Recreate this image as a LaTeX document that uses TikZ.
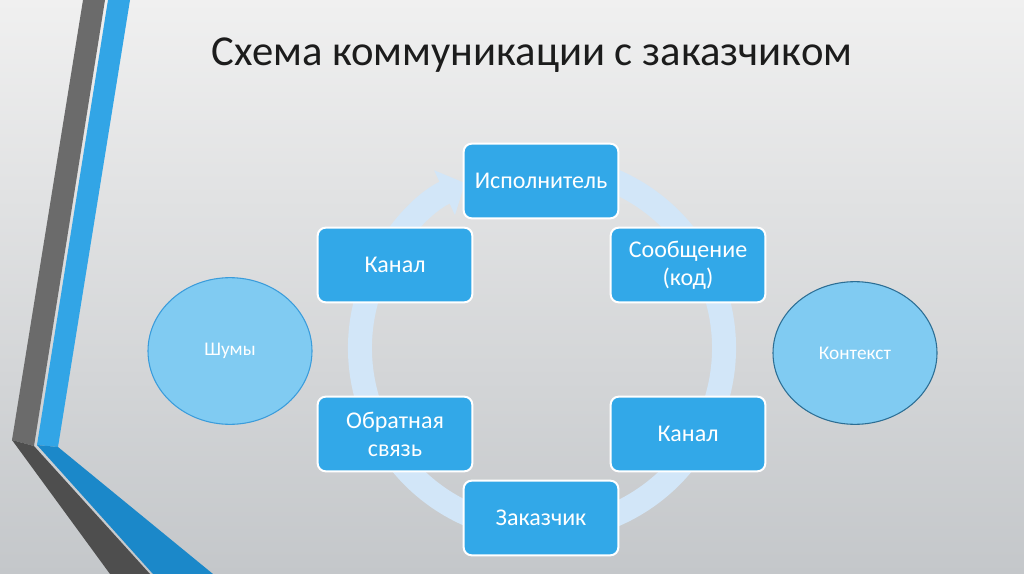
\documentclass[tikz,border=0pt]{standalone}
\usepackage{fontspec}
\setmainfont{Carlito}
\usetikzlibrary{arrows.meta,shapes.geometric}
\definecolor{boxblue}{RGB}{50,168,232}
\definecolor{ellfill}{RGB}{128,203,242}
\definecolor{shumline}{RGB}{58,156,219}
\definecolor{kontline}{RGB}{44,110,148}
\definecolor{ringcol}{RGB}{210,230,248}
\definecolor{bgtop}{RGB}{240,240,240}
\definecolor{bgbot}{RGB}{196,199,202}
\definecolor{greyup}{RGB}{107,107,107}
\definecolor{greylow}{RGB}{78,78,78}
\definecolor{blueup}{RGB}{50,165,230}
\definecolor{bluelow}{RGB}{27,136,201}
\definecolor{titlecol}{RGB}{28,28,28}
\begin{document}
\begin{tikzpicture}[x=0.75pt,y=-0.75pt,
  box/.style={rectangle, rounded corners=6pt, fill=boxblue, draw=white, line width=1.5pt,
    minimum width=116pt, minimum height=56pt, inner sep=0pt, align=center,
    text=white, font=\fontsize{18}{21}\selectfont},
  ell/.style={ellipse, fill=ellfill, line width=0.8pt, inner sep=0pt,
    text=white, font=\fontsize{14.5}{16}\selectfont},
  ring/.style={draw=ringcol, line width=18pt, -{Triangle[length=17pt,width=36pt]}},
  titlestyle/.style={text=titlecol, font=\fontsize{32}{38}\selectfont, inner sep=0pt}]
\useasboundingbox (0,0) rectangle (1024,574);
\shade[top color=bgtop, bottom color=bgbot] (0,0) rectangle (1024,574);
% left decoration
\fill[greyup] (83,0) -- (105,0) -- (34,446) -- (12,440) -- cycle;
\fill[greylow] (12,440) -- (34,446) -- (150,574) -- (110,574) -- cycle;
\fill[blueup] (108,0) -- (130,0) -- (58,447) -- (37,445) -- cycle;
\fill[bluelow] (37,445) -- (58,447) -- (213,574) -- (153,574) -- cycle;
% ring arrow
\coordinate (rc) at (542,348);
\draw[ring] (rc) ++(-70:182) arc[start angle=-70, end angle=245, radius=182];
% title
\node[titlestyle] (title) at (532,55) {Схема коммуникации с заказчиком};
% boxes
\node[box] (isp) at (541,181) {Исполнитель};
\node[box] (kan1) at (395,265) {Канал};
\node[box] (soob) at (688,265) {Сообщение\\(код)};
\node[box] (obr) at (395,434) {Обратная\\связь};
\node[box] (kan2) at (688,434) {Канал};
\node[box] (zak) at (541,518) {Заказчик};
% ellipses
\node[ell, draw=shumline, minimum width=123pt, minimum height=110pt] (shum) at (230,351) {Шумы};
\node[ell, draw=kontline, minimum width=123pt, minimum height=107pt] (kont) at (855,353) {Контекст};
\end{tikzpicture}
\end{document}
